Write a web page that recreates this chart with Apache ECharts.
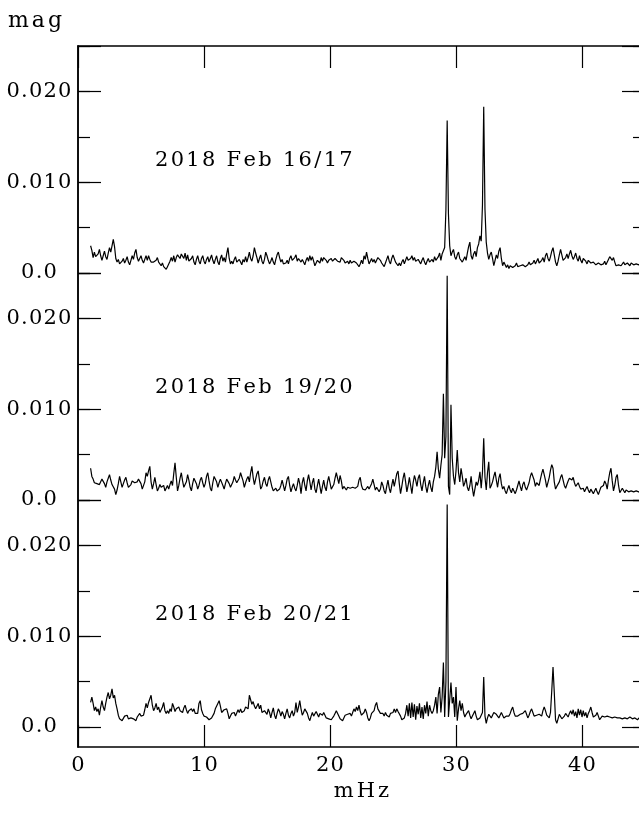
<!DOCTYPE html>
<html>
<head>
<meta charset="utf-8">
<script src="https://cdn.jsdelivr.net/npm/echarts@6/dist/echarts.min.js"></script>
<style>
  html, body { margin: 0; padding: 0; background: #fff; }
  #chart { width: 639px; height: 813px; }
</style>
</head>
<body>
<div id="chart"></div>
<script>
// Amplitude spectra of three nights, sampled every 0.1 mHz from 1.0 mHz.
// Amplitudes are in mmag (1 mmag = 0.001 mag).
const FREQ_START = 1.0;   // mHz
const FREQ_STEP = 0.1;    // mHz

const nightLabels = ['2018 Feb 16/17', '2018 Feb 19/20', '2018 Feb 20/21'];

const ampFeb16 = [
  3.0, 2.5, 1.7, 2.3, 1.8, 1.6, 2.1, 2.6, 1.9, 1.4,
  1.9, 2.4, 1.8, 1.5, 2.2, 2.8, 2.3, 3.0, 3.7, 2.9,
  1.6, 1.2, 1.5, 1.0, 0.8, 1.3, 1.6, 1.1, 1.4, 1.8,
  1.2, 0.9, 1.4, 1.9, 1.5, 2.2, 2.6, 1.7, 1.3, 1.6,
  1.9, 1.4, 1.1, 1.5, 1.9, 1.4, 1.9, 1.5, 1.2, 1.0,
  1.2, 1.0, 1.4, 1.7, 1.2, 1.0, 0.8, 1.1, 0.7, 0.6,
  0.4, 0.7, 0.9, 1.3, 1.7, 1.3, 1.9, 1.2, 1.7, 2.0,
  2.2, 1.6, 2.1, 2.3, 1.6, 2.2, 1.4, 2.0, 1.3, 1.1,
  1.6, 1.9, 1.2, 0.9, 1.5, 1.9, 1.3, 1.0, 1.6, 1.9,
  1.3, 1.0, 1.5, 1.8, 1.2, 1.6, 2.0, 1.4, 1.0, 1.5,
  1.9, 1.2, 0.9, 1.6, 2.0, 1.3, 1.7, 1.2, 2.1, 2.8,
  1.6, 1.0, 1.3, 1.0, 1.5, 1.8, 1.2, 1.0, 1.5, 1.2,
  0.9, 1.5, 1.2, 1.8, 1.2, 1.7, 2.3, 1.6, 1.3, 1.9,
  2.8, 2.2, 1.7, 1.1, 1.6, 2.0, 1.3, 1.0, 1.5, 2.3,
  1.9, 1.4, 1.0, 1.3, 1.7, 1.2, 0.9, 1.5, 2.0, 2.3,
  1.7, 1.2, 1.5, 1.0, 0.8, 1.1, 1.4, 1.0, 1.6, 1.9,
  1.4, 1.2, 1.7, 2.0, 1.3, 1.6, 1.8, 1.2, 1.5, 1.2,
  0.9, 1.4, 1.7, 1.3, 1.9, 1.4, 1.8, 1.3, 0.8, 1.0,
  1.4, 1.6, 1.1, 1.7, 1.3, 1.7, 1.9, 1.4, 1.1, 1.4,
  1.2, 1.6, 1.3, 1.1, 1.6, 1.8, 1.3, 1.5, 1.2, 1.7,
  1.9, 1.4, 1.1, 0.9, 1.3, 1.0, 1.4, 1.1, 0.9, 1.3,
  1.5, 1.1, 0.9, 0.7, 1.0, 1.4, 1.0, 1.9, 1.5, 2.3,
  1.6, 1.0, 1.3, 1.6, 1.2, 1.5, 1.1, 1.4, 1.7, 1.9,
  1.4, 1.1, 0.9, 0.7, 1.1, 1.5, 1.9, 1.3, 1.0, 1.6,
  2.0, 1.6, 1.2, 1.0, 0.8, 1.1, 0.8, 1.2, 1.5, 1.0,
  1.4, 1.8, 1.4, 1.2, 1.6, 1.9, 1.4, 1.7, 1.3, 1.1,
  1.5, 1.3, 1.0, 1.4, 1.7, 1.2, 0.9, 1.3, 1.6, 1.2,
  1.0, 1.5, 1.2, 1.8, 1.4, 1.2, 1.8, 2.2, 1.4, 2.1,
  2.0, 2.8, 7.0, 16.8, 6.5, 3.0, 1.9, 2.3, 2.6, 1.8,
  1.5, 2.0, 2.3, 1.6, 1.4, 1.2, 1.5, 1.8, 1.4, 2.2,
  2.9, 3.4, 1.9, 1.5, 2.1, 2.4, 1.8, 2.8, 3.2, 4.1,
  3.5, 7.5, 18.3, 7.0, 3.4, 2.2, 1.5, 2.0, 2.3, 1.6,
  0.8, 1.4, 2.0, 1.6, 2.4, 2.8, 1.6, 0.8, 1.2, 0.9,
  0.6, 0.9, 0.5, 0.8, 1.0, 0.6, 0.5, 0.8, 1.1, 0.7,
  0.5, 0.8, 0.6, 0.9, 1.1, 0.7, 0.6, 0.9, 1.2, 0.9,
  0.7, 1.1, 1.4, 1.0, 1.3, 1.6, 1.1, 1.0, 1.4, 1.7,
  1.2, 1.9, 2.2, 1.6, 1.3, 1.8, 2.4, 2.8, 2.0, 1.2,
  0.8, 1.3, 2.0, 2.6, 2.0, 1.4, 1.2, 1.7, 2.1, 1.6,
  2.1, 2.5, 1.9, 1.5, 1.8, 2.2, 1.6, 1.3, 1.9, 1.4,
  1.1, 1.6, 1.8, 1.3, 1.0, 1.4, 1.6, 1.1, 0.9, 1.2,
  1.3, 0.9, 0.7, 1.1, 1.3, 0.9, 0.7, 1.0, 1.3, 0.9,
  1.1, 1.5, 1.8, 1.9, 1.4, 1.7, 1.2, 0.8, 0.6, 0.9,
  1.1, 0.8, 1.0, 1.2, 0.9, 0.8, 1.1, 1.0, 0.8, 1.1,
  1.2, 0.9, 0.8, 1.0, 1.1, 0.9, 1.0
];

const ampFeb19 = [
  3.5, 2.6, 2.3, 1.9, 2.1, 1.8, 2.0, 1.7, 2.0, 2.3,
  2.3, 1.8, 1.4, 2.0, 2.4, 2.8, 2.2, 1.7, 1.9, 1.2,
  0.6, 1.1, 1.8, 2.6, 2.0, 1.4, 1.8, 2.2, 2.5, 1.9,
  1.4, 1.2, 1.7, 2.1, 2.3, 1.9, 1.7, 2.0, 2.3, 2.5,
  1.8, 1.2, 1.0, 2.0, 3.0, 2.6, 3.2, 3.7, 2.0, 1.2,
  1.8, 2.5, 1.7, 1.0, 1.3, 1.7, 1.4, 1.2, 1.6, 1.0,
  1.3, 1.6, 1.2, 1.7, 2.1, 1.6, 2.9, 4.1, 2.5, 1.0,
  1.6, 2.4, 3.0, 2.1, 1.4, 1.2, 2.0, 2.8, 2.2, 1.4,
  1.0, 1.8, 2.4, 2.6, 1.8, 1.2, 1.6, 2.2, 2.5, 1.9,
  1.4, 1.8, 2.6, 3.0, 2.1, 1.3, 1.0, 1.9, 2.6, 2.8,
  2.0, 1.4, 1.9, 2.3, 2.2, 1.6, 1.2, 1.8, 2.3, 2.5,
  1.8, 1.4, 1.3, 2.0, 2.6, 2.2, 1.9, 1.7, 2.4, 3.0,
  3.2, 2.1, 1.4, 1.9, 2.3, 2.6, 2.0, 3.0, 3.7, 2.5,
  1.7, 2.3, 2.9, 3.2, 2.2, 1.2, 1.5, 2.1, 2.5, 1.8,
  1.5, 2.2, 2.6, 2.0, 1.4, 1.0, 1.1, 1.3, 1.0, 0.9,
  1.2, 1.6, 2.2, 1.6, 1.0, 1.6, 2.3, 2.6, 1.6, 0.9,
  1.4, 1.8, 1.3, 1.0, 1.6, 2.4, 1.8, 0.7, 1.9, 2.5,
  1.6, 1.0, 2.1, 2.8, 2.0, 1.1, 1.9, 2.4, 1.2, 0.8,
  1.6, 2.3, 1.5, 0.7, 1.5, 2.2, 1.4, 1.0, 2.0, 2.6,
  1.9, 1.2, 1.0, 1.7, 2.4, 3.0, 3.2, 1.8, 2.7, 2.1,
  1.2, 1.5, 1.3, 1.1, 1.4, 1.2, 1.3, 1.1, 1.4, 1.6,
  1.3, 1.1, 1.5, 2.2, 2.5, 1.6, 1.2, 1.4, 1.1, 1.3,
  1.5, 1.2, 1.0, 1.8, 2.3, 1.7, 1.1, 1.4, 1.2, 0.9,
  1.2, 2.0, 1.6, 1.0, 0.7, 1.5, 2.2, 1.3, 0.8, 1.6,
  2.3, 1.5, 2.2, 2.9, 3.2, 1.8, 0.7, 1.5, 2.4, 3.0,
  2.0, 0.9, 1.6, 2.5, 1.6, 0.7, 1.9, 2.7, 2.2, 1.5,
  2.4, 2.8, 1.7, 1.0, 1.9, 2.6, 1.5, 0.8, 1.6, 2.2,
  1.4, 0.9, 2.0, 2.6, 3.6, 5.3, 3.4, 2.4, 3.8, 5.0,
  11.7, 4.6, 7.0, 24.7, 1.5, 0.6, 10.5, 4.6, 2.6, 1.7,
  3.2, 5.5, 3.0, 2.0, 3.5, 2.6, 1.5, 1.9, 2.4, 1.4,
  1.0, 1.6, 2.6, 1.3, 0.4, 1.2, 2.0, 1.6, 2.2, 3.1,
  1.3, 3.0, 6.8, 2.5, 1.1, 3.0, 4.2, 1.3, 1.6, 2.0,
  2.6, 3.1, 2.2, 1.4, 2.4, 2.9, 1.8, 1.2, 1.5, 1.0,
  0.7, 1.2, 1.6, 1.1, 0.8, 1.3, 1.0, 0.7, 1.1, 1.6,
  2.1, 1.5, 1.0, 1.7, 2.0, 1.4, 1.1, 1.5, 1.9, 2.6,
  3.0, 3.2, 2.2, 1.5, 1.9, 2.1, 1.6, 2.3, 2.9, 3.4,
  3.3, 2.2, 1.4, 1.5, 2.5, 3.3, 3.9, 3.5, 2.0, 1.2,
  1.5, 1.4, 2.0, 2.5, 2.8, 2.2, 1.6, 1.3, 1.7, 2.1,
  2.4, 2.6, 2.2, 2.5, 1.9, 1.5, 1.7, 1.9, 1.5, 1.2,
  1.0, 1.3, 0.9, 1.2, 1.5, 1.1, 0.8, 1.2, 1.0, 0.7,
  1.0, 1.3, 0.9, 0.6, 1.0, 1.4, 1.2, 1.6, 2.1, 1.8,
  1.2, 2.2, 3.0, 3.5, 2.1, 1.0, 1.6, 2.5, 2.8, 1.6,
  0.8, 1.0, 1.3, 1.1, 0.8, 1.1, 1.3, 0.9, 0.7, 1.0,
  1.2, 0.9, 0.7, 1.0, 1.2, 0.9, 0.8
];

const ampFeb20 = [
  2.7, 3.3, 2.6, 1.8, 2.2, 1.7, 2.0, 1.3, 2.2, 2.9,
  2.2, 1.8, 2.6, 3.3, 3.8, 3.1, 3.5, 4.2, 3.2, 3.5,
  2.6, 2.0, 1.3, 0.9, 1.1, 0.7, 0.9, 1.2, 1.0, 1.3,
  0.9, 0.7, 1.0, 1.2, 0.9, 0.8, 0.7, 1.1, 1.3, 1.5,
  1.2, 1.0, 1.3, 1.9, 2.6, 2.1, 2.7, 2.9, 3.5, 2.4,
  1.8, 2.1, 2.6, 1.9, 2.2, 1.6, 1.5, 2.2, 2.7, 1.8,
  1.5, 1.8, 1.5, 2.0, 1.7, 2.6, 2.2, 1.7, 2.0, 1.8,
  2.2, 1.8, 1.9, 1.6, 2.1, 2.4, 1.9, 1.5, 1.8, 1.6,
  2.0, 1.7, 2.0, 1.5, 1.7, 1.5, 2.6, 2.9, 1.9, 1.5,
  1.2, 1.3, 1.1, 0.9, 0.8, 0.7, 1.0, 1.1, 1.5, 2.0,
  2.2, 2.6, 2.9, 2.3, 1.6, 1.5, 1.9, 1.7, 2.0, 1.5,
  0.9, 1.2, 1.5, 1.3, 1.6, 1.2, 1.4, 1.9, 1.6, 2.0,
  1.6, 1.5, 1.8, 2.2, 2.4, 2.0, 3.5, 3.0, 2.5, 2.8,
  2.3, 2.0, 2.2, 2.6, 2.0, 2.4, 1.6, 1.5, 1.8, 1.7,
  1.4, 2.0, 1.6, 1.0, 1.6, 2.1, 1.3, 0.9, 1.5, 2.0,
  1.7, 1.2, 1.7, 1.4, 0.9, 1.5, 2.0, 1.3, 1.0, 1.5,
  1.8, 1.2, 1.6, 2.7, 1.6, 2.2, 2.9, 2.0, 1.3, 1.6,
  2.0, 2.2, 1.5, 1.0, 0.7, 1.2, 1.6, 1.2, 1.4, 1.7,
  1.5, 1.1, 1.5, 1.7, 1.3, 1.6, 1.4, 1.0, 1.2, 0.9,
  1.0, 0.8, 1.0, 1.2, 1.5, 1.8, 1.6, 1.2, 0.9, 0.8,
  0.7, 1.0, 1.3, 1.1, 1.4, 1.6, 1.5, 1.2, 1.6, 2.0,
  1.7, 2.2, 1.8, 2.4, 1.7, 1.3, 1.1, 1.6, 2.0, 1.6,
  1.0, 0.7, 1.0, 1.5, 1.3, 1.8, 2.4, 2.7, 2.0, 1.8,
  1.5, 1.3, 1.5, 1.2, 1.6, 1.3, 1.1, 1.1, 1.5, 1.3,
  1.6, 2.0, 1.6, 2.0, 1.7, 1.5, 1.2, 0.8, 0.7, 1.0,
  1.5, 2.4, 1.2, 2.6, 1.0, 2.7, 1.1, 2.5, 0.8, 2.3,
  1.4, 2.6, 1.0, 2.2, 0.9, 2.4, 1.5, 2.8, 1.2, 2.4,
  1.8, 1.5, 1.8, 2.4, 3.3, 1.5, 3.6, 4.4, 1.6, 3.3,
  7.1, 1.1, 5.0, 24.5, 1.1, 3.0, 4.9, 2.6, 3.3, 1.1,
  4.4, 0.7, 2.0, 2.9, 1.8, 2.6, 1.6, 1.1, 1.4, 1.6,
  1.8, 1.3, 0.9, 1.2, 1.5, 1.8, 1.2, 0.8, 0.7, 1.0,
  1.1, 1.6, 5.5, 1.2, 0.4, 1.0, 1.4, 1.2, 1.0, 1.3,
  1.6, 1.8, 1.4, 1.2, 1.0, 1.3, 1.6, 1.3, 1.0, 0.9,
  1.2, 1.4, 1.2, 1.5, 1.9, 2.2, 1.6, 1.2, 1.0, 1.2,
  1.4, 1.4, 1.2, 1.5, 1.7, 1.8, 1.4, 1.0, 1.3, 1.7,
  2.0, 1.6, 1.2, 1.0, 1.3, 1.5, 1.4, 1.4, 1.2, 1.8,
  2.2, 1.8, 1.3, 1.2, 1.0, 1.6, 4.0, 6.6, 3.8, 0.8,
  0.4, 0.9, 1.4, 1.2, 0.9, 0.8, 1.2, 1.5, 1.3, 1.1,
  1.5, 1.8, 1.4, 1.9, 1.2, 1.7, 1.0, 2.0, 1.3, 1.9,
  1.1, 1.8, 1.2, 1.6, 1.0, 1.5, 1.8, 2.2, 1.6, 1.1,
  1.0, 1.3, 1.6, 1.2, 0.8, 0.9, 1.2, 1.4, 1.1, 0.9,
  1.2, 1.4, 1.1, 1.3, 1.0, 0.8, 1.1, 1.3, 1.0, 0.8,
  1.0, 1.2, 0.9, 0.7, 1.0, 1.2, 0.9, 0.7, 1.1, 1.3,
  0.9, 0.7, 1.0, 1.2, 0.8, 0.9, 1.1
];

const nights = [ampFeb16, ampFeb19, ampFeb20];

// Axis settings (frequency in mHz, amplitude in mmag; labels shown in mag)
const X_MIN = 0, X_MAX = 45, X_STEP = 10;
const Y_MIN = 0, Y_MAX = 25, Y_MAJOR = 10, Y_MINOR = 5;
const yTickLabels = { 0: '0.0', 10: '0.010', 20: '0.020' };

const FONT = 'DejaVu Serif';
const FONT_SIZE = 21;
const INK = '#000';

// Letter-spaced text: every character gets its own rich-text box
const measureCtx = document.createElement('canvas').getContext('2d');
function spacedRich(chars, size, spacing) {
  measureCtx.font = size + 'px "' + FONT + '"';
  const rich = {};
  for (const ch of chars) {
    rich['c' + ch.charCodeAt(0)] = {
      width: measureCtx.measureText(ch).width + spacing,
      align: 'center', fontSize: size, fontFamily: FONT, color: INK
    };
  }
  return rich;
}
function spacedText(text) {
  let s = '';
  for (const ch of text) s += '{c' + ch.charCodeAt(0) + '|' + ch + '}';
  return s;
}

// Pair each amplitude with its frequency on the 0.1 mHz grid
function toPoints(amps) {
  const pts = [];
  for (let i = 0; i < amps.length; i++) {
    pts.push([Math.round((FREQ_START + i * FREQ_STEP) * 10) / 10, amps[i]]);
  }
  return pts;
}

const PANEL_LEFT = 78, PANEL_W = 567, PANEL_H = 227, PANEL_TOP = 46;
const FRAME_BOTTOM = 747;

const tickRich = spacedRich('0123456789.', FONT_SIZE, 1.2);
const grids = [], xAxes = [], yAxes = [], series = [], texts = [];

nights.forEach((amps, i) => {
  const top = PANEL_TOP + i * PANEL_H;
  grids.push({
    left: PANEL_LEFT, top: top, width: PANEL_W, height: PANEL_H,
    outerBoundsMode: 'none'
  });

  xAxes.push({
    type: 'value', gridIndex: i, min: X_MIN, max: X_MAX, interval: X_STEP, show: false
  });

  const base = {
    type: 'value', gridIndex: i, min: Y_MIN, max: Y_MAX,
    splitLine: { show: false }, axisLine: { show: false }
  };
  // major ticks (with labels) on the left
  yAxes.push(Object.assign({}, base, {
    position: 'left', interval: Y_MAJOR,
    axisTick: { show: true, inside: true, length: 23, lineStyle: { color: INK, width: 1.2 } },
    axisLabel: {
      show: true, margin: 39, align: 'center', rich: tickRich,
      formatter: v => (yTickLabels[v] !== undefined ? spacedText(yTickLabels[v]) : '')
    }
  }));
  const majorIndex = yAxes.length - 1;
  // minor ticks on the left
  yAxes.push(Object.assign({}, base, {
    position: 'left', interval: Y_MINOR,
    axisTick: { show: true, inside: true, length: 12, lineStyle: { color: INK, width: 1.2 } },
    axisLabel: { show: false }
  }));
  // mirrored ticks on the right
  yAxes.push(Object.assign({}, base, {
    position: 'right', interval: Y_MAJOR,
    axisTick: { show: true, inside: true, length: 23, lineStyle: { color: INK, width: 1.2 } },
    axisLabel: { show: false }
  }));
  yAxes.push(Object.assign({}, base, {
    position: 'right', interval: Y_MINOR,
    axisTick: { show: true, inside: true, length: 12, lineStyle: { color: INK, width: 1.2 } },
    axisLabel: { show: false }
  }));

  series.push({
    type: 'line', name: nightLabels[i], xAxisIndex: i, yAxisIndex: majorIndex,
    data: toPoints(amps), showSymbol: false, symbol: 'none',
    lineStyle: { color: INK, width: 1.2 }, silent: true
  });

  texts.push({
    type: 'text', left: 155, top: top + 104,
    style: { text: spacedText(nightLabels[i]), rich: spacedRich(nightLabels[i], FONT_SIZE, 2.3) }
  });
});

// Outer frame shared by the three spectra: frequency axis at top and bottom
const frameIndex = grids.length;
grids.push({
  left: PANEL_LEFT, top: PANEL_TOP, width: PANEL_W, height: FRAME_BOTTOM - PANEL_TOP,
  outerBoundsMode: 'none'
});
const frameAxis = {
  type: 'value', gridIndex: frameIndex, min: X_MIN, max: X_MAX, interval: X_STEP,
  splitLine: { show: false },
  axisLine: { show: true, onZero: false, lineStyle: { color: INK, width: 1.5 } },
  axisTick: { show: true, inside: true, length: 22, lineStyle: { color: INK, width: 1.2 } }
};
xAxes.push(Object.assign({}, frameAxis, {
  position: 'bottom',
  axisLabel: {
    show: true, margin: 8, rich: tickRich, showMaxLabel: false,
    formatter: v => spacedText(String(v))
  },
  name: spacedText('mHz'), nameLocation: 'middle', nameGap: 31,
  nameTextStyle: { rich: spacedRich('mHz', FONT_SIZE, 3) }
}));
xAxes.push(Object.assign({}, frameAxis, {
  position: 'top', axisLabel: { show: false }
}));
yAxes.push({
  type: 'value', gridIndex: frameIndex, min: 0, max: 1, position: 'left',
  splitLine: { show: false }, axisTick: { show: false }, axisLabel: { show: false },
  axisLine: { show: true, lineStyle: { color: INK, width: 1.5 } }
});
yAxes.push({
  type: 'value', gridIndex: frameIndex, min: 0, max: 1, position: 'right',
  splitLine: { show: false }, axisTick: { show: false }, axisLabel: { show: false },
  axisLine: { show: true, lineStyle: { color: INK, width: 1.5 } }
});

texts.push({
  type: 'text', left: 8, top: 10,
  style: { text: spacedText('mag'), rich: spacedRich('mag', 22, 3) }
});

const chart = echarts.init(document.getElementById('chart'), null, { renderer: 'canvas' });
chart.setOption({
  animation: false,
  backgroundColor: '#fff',
  grid: grids,
  xAxis: xAxes,
  yAxis: yAxes,
  series: series,
  graphic: texts
});
</script>
</body>
</html>
